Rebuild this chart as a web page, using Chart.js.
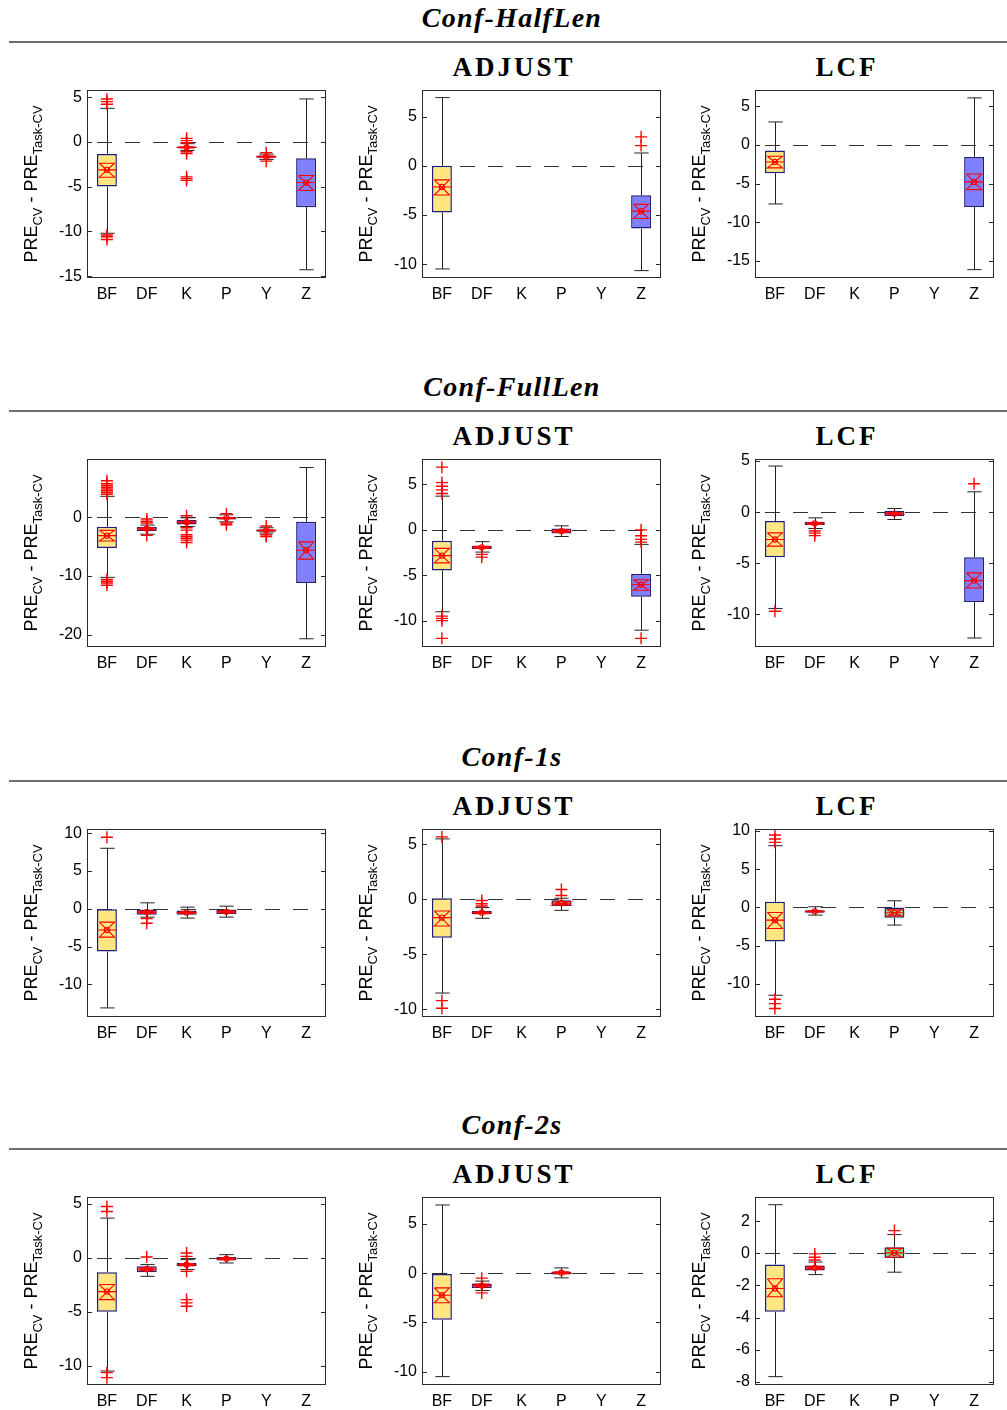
<!DOCTYPE html>
<html>
<head>
<meta charset="utf-8">
<script src="https://cdn.jsdelivr.net/npm/chart.js@4.4.0/dist/chart.umd.min.js"></script>
<style>
  html, body { margin: 0; padding: 0; background: #fff; }
  #page { position: relative; width: 1007px; height: 1410px; overflow: hidden; background: #fff; }
  .sec { position: absolute; left: 0; width: 1022px; text-align: center; padding-left: 1px;
         font: italic bold 28px "Liberation Serif", serif; letter-spacing: 1.3px; line-height: 28px;
         color: #000; white-space: nowrap; }
  .rule { position: absolute; left: 9px; width: 998px; height: 2px; background: #707070; }
  .meth { position: absolute; width: 300px; text-align: center; padding-left: 3px;
          font: bold 27px "Liberation Serif", serif; letter-spacing: 3px; line-height: 27px;
          color: #000; white-space: nowrap; }
  canvas { position: absolute; }
</style>
</head>
<body>
<div id="page"></div>
<script>
// ---- data -------------------------------------------------------------
const categories = ['BF', 'DF', 'K', 'P', 'Y', 'Z'];
const sections = ['Conf-HalfLen', 'Conf-FullLen', 'Conf-1s', 'Conf-2s'];
const methods = ['', 'ADJUST', 'LCF'];
const N = null;

// axis limits and tick values, one entry per panel (row by row, left to right)
const yLimits = [
  [-15.2, 5.8], [-11.4, 7.7], [-17.2, 7.1],
  [-22.1, 9.9], [-12.9, 7.8], [-13.2, 5.2],
  [-14.3, 10.55], [-10.7, 6.4], [-14.3, 10.24],
  [-11.75, 5.6], [-11.35, 7.74], [-8.2, 3.5]
];
const yTicks = [
  [-15, -10, -5, 0, 5], [-10, -5, 0, 5], [-15, -10, -5, 0, 5],
  [-20, -10, 0], [-10, -5, 0, 5], [-10, -5, 0, 5],
  [-10, -5, 0, 5, 10], [-10, -5, 0, 5], [-10, -5, 0, 5, 10],
  [-10, -5, 0, 5], [-10, -5, 0, 5], [-8, -6, -4, -2, 0, 2]
];

// box statistics per panel, columns follow `categories`
const q1 = [
  [-4.98, N, -0.72, N, -1.78, -7.29], [-4.74, N, N, N, N, -6.38], [-3.66, N, N, N, N, -8.02],
  [-5.24, -2.37, -1.24, -0.4, -2.48, -11.2], [-4.47, -2.11, N, -0.4, N, -7.38], [-4.41, -1.27, N, -0.39, N, -8.79],
  [-5.63, -0.79, -0.79, -0.7, N, N], [-3.5, -1.36, N, -0.6, N, N], [-4.44, -0.7, N, -1.35, N, N],
  [-5.0, -1.35, -0.8, -0.25, N, N], [-4.73, -1.49, N, -0.14, N, N], [-3.64, -1.08, N, -0.29, N, N]
];
const q3 = [
  [-1.34, N, -0.5, N, -1.52, -1.82], [0.0, N, N, N, N, -3.0], [-0.73, N, N, N, N, -1.55],
  [-1.63, -1.69, -0.5, 0.05, -2.08, -0.79], [-1.2, -1.75, N, 0.15, N, -4.85], [-0.88, -0.95, N, 0.1, N, -4.41],
  [-0.05, -0.09, -0.22, -0.09, N, N], [0.09, -1.06, N, -0.09, N, N], [0.74, -0.35, N, 0.0, N, N],
  [-1.35, -0.8, -0.49, 0.06, N, N], [-0.07, -1.05, N, 0.17, N, N], [-0.7, -0.77, N, 0.37, N, N]
];
const medians = [
  [-3.12, N, -0.6, N, -1.65, -4.54], [-2.15, N, N, N, N, -4.61], [-2.2, N, N, N, N, -4.78],
  [-3.15, -1.97, -0.85, -0.15, -2.25, -5.63], [-2.84, -1.93, N, -0.15, N, -6.04], [-2.68, -1.11, N, -0.15, N, -6.7],
  [-2.81, -0.44, -0.5, -0.4, N, N], [-1.66, -1.21, N, -0.35, N, N], [-1.66, -0.52, N, -0.7, N, N],
  [-3.13, -1.07, -0.65, -0.1, N, N], [-2.23, -1.25, N, 0.05, N, N], [-2.19, -0.91, N, 0.02, N, N]
];
const notchLow = [
  [-3.94, N, -0.66, N, -1.72, -5.43], [-2.97, N, N, N, N, -5.36], [-2.97, N, N, N, N, -5.78],
  [-4.06, -2.12, -1.0, -0.25, -2.36, -7.15], [-3.64, -2.05, N, -0.3, N, -6.65], [-3.33, -1.2, N, -0.25, N, -7.42],
  [-3.74, -0.6, -0.62, -0.55, N, N], [-2.42, -1.3, N, -0.5, N, N], [-2.74, -0.6, N, -1.1, N, N],
  [-3.87, -1.2, -0.75, -0.18, N, N], [-3.0, -1.4, N, -0.05, N, N], [-2.71, -1.0, N, -0.25, N, N]
];
const notchHigh = [
  [-2.38, N, -0.54, N, -1.58, -3.75], [-1.43, N, N, N, N, -3.92], [-1.47, N, N, N, N, -3.75],
  [-2.25, -1.82, -0.7, -0.05, -2.14, -4.2], [-2.04, -1.81, N, 0.0, N, -5.49], [-2.03, -1.02, N, -0.05, N, -5.95],
  [-1.76, -0.28, -0.38, -0.25, N, N], [-1.06, -1.12, N, -0.2, N, N], [-0.65, -0.44, N, -0.3, N, N],
  [-2.48, -0.94, -0.55, -0.02, N, N], [-1.49, -1.1, N, 0.15, N, N], [-1.59, -0.82, N, 0.3, N, N]
];
const whiskerLow = [
  [-10.2, N, -0.95, N, -1.95, -14.28], [-10.48, N, N, N, N, -10.65], [-7.63, N, N, N, N, -16.12],
  [-10.25, -2.9, -1.6, -0.8, -2.7, -20.7], [-9.02, -2.45, N, -0.73, N, -11.05], [-9.44, -1.6, N, -0.72, N, -12.32],
  [-13.1, -1.1, -1.23, -1.1, N, N], [-8.52, -1.72, N, -1.0, N, N], [-11.46, -1.0, N, -2.3, N, N],
  [-10.46, -1.72, -1.1, -0.49, N, N], [-10.5, -1.75, N, -0.47, N, N], [-7.68, -1.33, N, -1.18, N, N]
];
const whiskerHigh = [
  [3.75, N, -0.2, N, -1.35, 4.8], [6.93, N, N, N, N, 1.3], [2.97, N, N, N, N, 6.08],
  [3.55, -1.35, -0.1, 0.4, -1.8, 8.45], [3.71, -1.3, N, 0.44, N, -1.6], [4.51, -0.56, N, 0.36, N, 1.99],
  [8.0, 0.79, 0.22, 0.35, N, N], [5.5, -0.75, N, 0.1, N, N], [8.06, 0.09, N, 0.87, N, N],
  [3.65, -0.64, -0.18, 0.28, N, N], [6.93, -0.8, N, 0.54, N, N], [3.02, -0.55, N, 1.16, N, N]
];
const outliers = [
  [[4.2, 4.5, 4.8, -10.4, -10.6, -10.9], [], [0.4, 0.15, -0.1, -1.1, -1.3, -3.9, -4.1, -4.3], [], [-1.2, -2.15], []],
  [[], [], [], [], [], [2.05, 2.94]],
  [[], [], [], [], [], []],
  [[3.9, 4.2, 4.5, 4.8, 5.1, 5.4, 5.7, 6.2, -10.6, -10.9, -11.2, -11.6], [-0.3, -0.7, -1.0, -3.1],
   [0.25, -1.8, -2.2, -3.0, -3.3, -3.6, -3.9, -4.3], [0.6, -1.0, -1.3], [-1.5, -3.0, -3.3], []],
  [[4.0, 4.4, 4.8, 5.2, 6.9, -9.5, -9.75, -10.0, -11.95], [-2.7, -3.0], [], [], [], [0.0, -0.65, -1.05, -1.35, -11.95]],
  [[-9.7], [-1.85, -2.05, -2.3], [], [], [], [2.78]],
  [[9.45], [-1.3, -1.9], [], [], [], []],
  [[5.68, -9.21, -9.91], [-0.1, -0.4, -0.6], [], [0.35, 0.9], [], []],
  [[8.5, 8.93, 9.45, -11.98, -12.55, -13.2], [], [], [], [], []],
  [[4.26, 4.72, -10.61, -11.07], [0.06], [0.43, 0.12, -1.26, -3.87, -4.17, -4.48], [], [], []],
  [[], [-0.5, -2.0], [], [], [], []],
  [[], [-0.04, -0.25, -0.42], [], [1.41], [], []]
];

// ---- styling ----------------------------------------------------------
const boxFill = ['#ffe680', '#ff99dd', '#9999ff', '#88dd88', '#9999ff', '#8080ff'];
const boxEdge = '#1e1e7a';
const markRed = '#ff0000';
const axisFont = { family: '"Liberation Sans", Arial, sans-serif', size: 16 };

// page geometry
const sectionTop = [0, 369, 739, 1107];
const plotLeft = [87, 422, 755];
const methodCenter = [0, 511, 844];
const plotW = 239, plotH = 188;
const padL = 87, padR = 9, padT = 16, padB = 40;

const page = document.getElementById('page');

// whiskers, notches, medians, frame and axis title around the boxes
const boxDecor = {
  id: 'boxDecor',
  beforeDatasetsDraw(chart) {
    const p = chart.options.plugins.boxDecor.panel;
    const { ctx, chartArea: a, scales: { x, y } } = chart;
    ctx.save();
    // dashed reference line at zero
    const y0 = Math.round(y.getPixelForValue(0)) + 0.5;
    ctx.strokeStyle = '#333';
    ctx.lineWidth = 1;
    ctx.setLineDash([15, 13]);
    ctx.lineDashOffset = -10;
    ctx.beginPath(); ctx.moveTo(a.left, y0); ctx.lineTo(a.right, y0); ctx.stroke();
    ctx.setLineDash([]);
    // whiskers with end caps
    const cw = x.getPixelForValue(1) - x.getPixelForValue(0);
    const cap = cw * 0.18;
    ctx.strokeStyle = '#222';
    categories.forEach((c, i) => {
      if (q1[p][i] == null) return;
      const cx = Math.round(x.getPixelForValue(i)) + 0.5;
      const yl = y.getPixelForValue(whiskerLow[p][i]);
      const yh = y.getPixelForValue(whiskerHigh[p][i]);
      const yb = y.getPixelForValue(q1[p][i]);
      const yt = y.getPixelForValue(q3[p][i]);
      ctx.beginPath();
      ctx.moveTo(cx, yt); ctx.lineTo(cx, yh);
      ctx.moveTo(cx, yb); ctx.lineTo(cx, yl);
      ctx.moveTo(cx - cap, yh); ctx.lineTo(cx + cap, yh);
      ctx.moveTo(cx - cap, yl); ctx.lineTo(cx + cap, yl);
      ctx.stroke();
    });
    ctx.restore();
  },
  afterDatasetDraw(chart, args) {
    if (args.index !== 0) return;
    const p = chart.options.plugins.boxDecor.panel;
    const { ctx, scales: { x, y } } = chart;
    const cw = x.getPixelForValue(1) - x.getPixelForValue(0);
    const half = cw * 0.25, nh = cw * 0.19;
    ctx.save();
    ctx.strokeStyle = markRed;
    ctx.lineWidth = 1.1;
    categories.forEach((c, i) => {
      if (medians[p][i] == null) return;
      const cx = x.getPixelForValue(i);
      const ym = y.getPixelForValue(medians[p][i]);
      const ya = y.getPixelForValue(notchHigh[p][i]);
      const yb = y.getPixelForValue(notchLow[p][i]);
      ctx.beginPath();
      ctx.moveTo(cx - half, ym); ctx.lineTo(cx + half, ym);
      // hourglass notch marker
      ctx.moveTo(cx - nh, ya); ctx.lineTo(cx + nh, ya); ctx.lineTo(cx - nh, yb);
      ctx.lineTo(cx + nh, yb); ctx.lineTo(cx - nh, ya);
      ctx.stroke();
      ctx.beginPath();
      ctx.arc(cx, ym, 2.6, 0, Math.PI * 2);
      ctx.stroke();
    });
    ctx.restore();
  },
  afterDraw(chart) {
    const p = chart.options.plugins.boxDecor.panel;
    const { ctx, chartArea: a, scales: { y } } = chart;
    ctx.save();
    // axes box with inward ticks on both sides
    ctx.strokeStyle = '#2a2a2a';
    ctx.lineWidth = 1;
    ctx.strokeRect(a.left + 0.5, a.top + 0.5, a.right - a.left - 1, a.bottom - a.top - 1);
    ctx.beginPath();
    yTicks[p].forEach(v => {
      const py = Math.round(y.getPixelForValue(v)) + 0.5;
      ctx.moveTo(a.left, py); ctx.lineTo(a.left + 5, py);
      ctx.moveTo(a.right - 5, py); ctx.lineTo(a.right, py);
    });
    ctx.stroke();
    // rotated axis title with subscripts
    const parts = [
      { t: 'PRE', sub: false }, { t: 'CV', sub: true },
      { t: ' - PRE', sub: false }, { t: 'Task-CV', sub: true }
    ];
    const fam = '"Liberation Sans", Arial, sans-serif';
    const fontOf = s => (s ? '13px ' : '18px ') + fam;
    let total = 0;
    parts.forEach(s => { ctx.font = fontOf(s.sub); s.w = ctx.measureText(s.t).width; total += s.w; });
    ctx.translate(a.left - 50, (a.top + a.bottom) / 2);
    ctx.rotate(-Math.PI / 2);
    ctx.fillStyle = '#000';
    ctx.textBaseline = 'alphabetic';
    let pos = -total / 2;
    parts.forEach(s => {
      ctx.font = fontOf(s.sub);
      ctx.fillText(s.t, pos, s.sub ? 5 : 0);
      pos += s.w;
    });
    ctx.restore();
  }
};

// section headings and rules
sections.forEach((name, r) => {
  const h = document.createElement('div');
  h.className = 'sec';
  h.style.top = (sectionTop[r] + 3.5) + 'px';
  h.textContent = name;
  page.appendChild(h);
  const rule = document.createElement('div');
  rule.className = 'rule';
  rule.style.top = (sectionTop[r] + 41) + 'px';
  page.appendChild(rule);
  methods.forEach((m, c) => {
    if (!m) return;
    const t = document.createElement('div');
    t.className = 'meth';
    t.style.left = (methodCenter[c] - 150) + 'px';
    t.style.top = (sectionTop[r] + 53.5) + 'px';
    t.textContent = m;
    page.appendChild(t);
  });
});

// one box-plot panel per section and method
for (let p = 0; p < 12; p++) {
  const r = Math.floor(p / 3), c = p % 3;
  const cv = document.createElement('canvas');
  cv.width = padL + plotW + padR;
  cv.height = padT + plotH + padB;
  cv.style.left = (plotLeft[c] - padL) + 'px';
  cv.style.top = (sectionTop[r] + 90 - padT) + 'px';
  page.appendChild(cv);

  const boxes = categories.map((_, i) => (q1[p][i] == null ? null : [q1[p][i], q3[p][i]]));
  const points = [];
  outliers[p].forEach((list, i) => list.forEach(v => points.push({ x: categories[i], y: v })));

  new Chart(cv.getContext('2d'), {
    type: 'bar',
    data: {
      labels: categories,
      datasets: [
        {
          type: 'bar', data: boxes, backgroundColor: boxFill, borderColor: boxEdge,
          borderWidth: 1.5, borderSkipped: false, categoryPercentage: 1, barPercentage: 0.5, order: 2
        },
        {
          type: 'line', data: points, showLine: false, pointStyle: 'cross', pointRadius: 6,
          pointBorderWidth: 1.4, pointBorderColor: markRed, borderColor: markRed, order: 1
        }
      ]
    },
    options: {
      responsive: false, animation: false, devicePixelRatio: 1,
      layout: { padding: { left: 0, right: padR, top: padT, bottom: 0 } },
      plugins: { legend: { display: false }, tooltip: { enabled: false }, boxDecor: { panel: p } },
      scales: {
        x: {
          type: 'category', offset: true,
          grid: { display: false, drawTicks: false }, border: { display: false },
          ticks: { font: axisFont, color: '#000', padding: 7, maxRotation: 0, autoSkip: false },
          afterFit(s) { s.height = padB; }
        },
        y: {
          type: 'linear', min: yLimits[p][0], max: yLimits[p][1],
          grid: { display: false, drawTicks: false }, border: { display: false },
          ticks: { font: axisFont, color: '#000', padding: 5 },
          afterBuildTicks(s) { s.ticks = yTicks[p].map(v => ({ value: v })); },
          afterFit(s) { s.width = padL; }
        }
      }
    },
    plugins: [boxDecor]
  });
}
</script>
</body>
</html>
